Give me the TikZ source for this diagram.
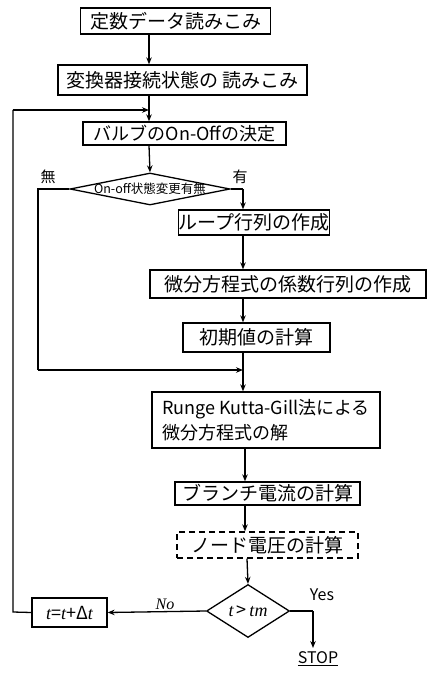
\documentclass[tikz,border=0pt]{standalone}
\usepackage{fontspec}
\setmainfont{Noto Sans CJK JP}
\newfontfamily\jp{Noto Sans CJK JP}
\newfontfamily\lat{Liberation Serif}
\usetikzlibrary{shapes.geometric,arrows.meta}
\tikzset{
  box/.style={draw,line width=1.3pt,rectangle,inner sep=0pt,font=\jp\fontsize{19}{22}\selectfont},
  dbox/.style={box,dashed,dash pattern=on 6pt off 4pt},
  dec/.style={draw,line width=1.3pt,diamond,inner sep=0pt},
  flow/.style={line width=1.3pt,-{Stealth[length=7pt,width=5.5pt]}},
  line/.style={line width=1.3pt},
  lab/.style={font=\jp\fontsize{15}{17}\selectfont}
}
\newcommand{\tv}{{\lat\itshape t}}
\begin{document}
\begin{tikzpicture}[x=1pt,y=-1pt]
\useasboundingbox (0,0) rectangle (429,674);
\coordinate (ca) at (149,0);
\coordinate (cb) at (243,0);
\coordinate (cc) at (245,0);
\coordinate (cd) at (247,0);
\node[box,minimum width=190pt,minimum height=26pt] (n1) at (175.5,21) {定数データ読みこみ};
\node[box,minimum width=249pt,minimum height=30pt] (n2) at (182.5,80) {変換器接続状態の 読みこみ};
\node[box,minimum width=203pt,minimum height=23pt,font=\jp\fontsize{18}{21}\selectfont] (n3) at (184.5,133.5) {バルブのOn-Offの決定};
\node[dec,minimum width=160pt,minimum height=32pt,label={[font=\jp\fontsize{12.5}{13}\selectfont]center:On-off状態変更有無}] (d1) at (150,189) {};
\node[box,minimum width=138pt,minimum height=25pt] (n4) at (254,222.5) {ループ行列の作成};
\node[box,minimum width=276pt,minimum height=28pt] (n5) at (288,284) {微分方程式の係数行列の作成};
\node[box,minimum width=147pt,minimum height=29pt] (n6) at (256.5,337.5) {初期値の計算};
\node[box,minimum width=228pt,minimum height=56pt,align=left,font=\jp\fontsize{18}{25}\selectfont] (n7) at (266,420) {Runge Kutta-Gill法による\\微分方程式の解};
\node[box,minimum width=185pt,minimum height=23pt] (n8) at (267.5,493.5) {ブランチ電流の計算};
\node[dbox,minimum width=181pt,minimum height=26pt] (n9) at (267.5,545) {ノード電圧の計算};
\node[dec,minimum width=83pt,minimum height=53pt,label={[font=\fontsize{18}{20}\selectfont]center:\tv\,>\,\tv{\lat\itshape m}}] (d2) at (248,611) {};
\node[box,minimum width=75pt,minimum height=29pt,font=\fontsize{18}{20}\selectfont] (n10) at (69.5,612.5) {\tv=\tv+Δ\tv};
\coordinate (lpb) at (13,612);
\coordinate (lpt) at (13,110);
\coordinate (lpe) at (149,110);
\coordinate (ma) at (38,189);
\coordinate (mb) at (38,370);
\coordinate (mc) at (243,370);
\coordinate (ya) at (313,611);
\coordinate (yb) at (313,648);
\node[lab] (wu) at (48,177) {無};
\node[lab] (yu) at (240,177) {有};
\node[font=\lat\itshape\fontsize{16}{18}\selectfont] (no) at (165,604) {No};
\node[font=\fontsize{16}{18}\selectfont] (yes) at (322,595) {Yes};
\node[font=\fontsize{16}{18}\selectfont,inner sep=1pt] (stop) at (318,659) {\underline{STOP}};
% connectors
\draw[flow] (n1.south -| ca) -- (n2.north -| ca);
\draw[flow] (n2.south -| ca) -- (n3.north -| ca);
\draw[line] (n10.west) -- (lpb) -- (lpt);
\draw[flow] (lpt) -- (lpe);
\draw[flow] (n3.south -| ca) -- (d1.north);
\draw[line] (d1.east) -- (d1.east -| cb);
\draw[flow] (d1.east -| cb) -- (n4.north -| cb);
\draw[flow] (n4.south -| cb) -- (n5.north -| cb);
\draw[flow] (n5.south -| cb) -- (n6.north -| cb);
\draw[flow] (n6.south -| cb) -- (n7.north -| cb);
\draw[line] (d1.west) -- (ma) -- (mb);
\draw[flow] (mb) -- (mc);
\draw[flow] (n7.south -| cc) -- (n8.north -| cc);
\draw[flow] (n8.south -| cc) -- (n9.north -| cc);
\draw[flow] (n9.south -| cd) -- (d2.north);
\draw[flow] (d2.west) -- (n10.east);
\draw[line] (d2.east) -- (ya);
\draw[flow] (ya) -- (yb);
\end{tikzpicture}
\end{document}
